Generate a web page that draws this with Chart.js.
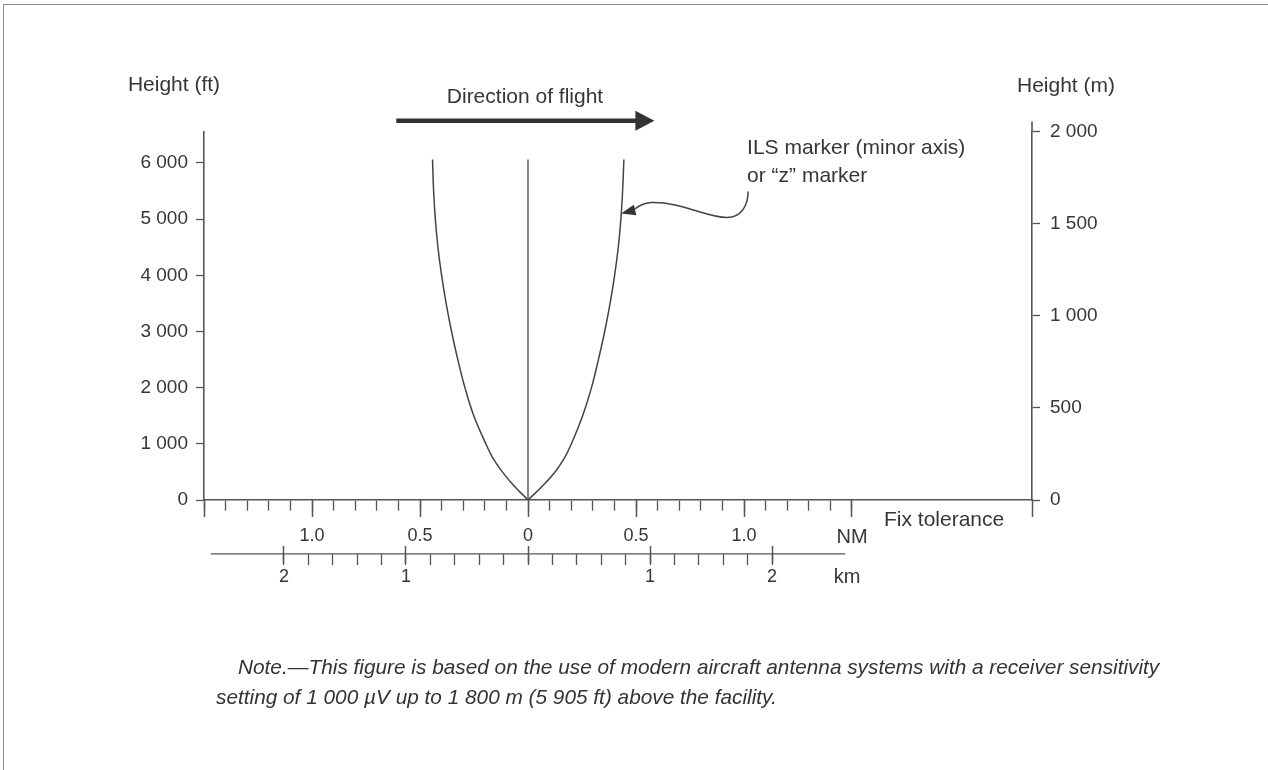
<!DOCTYPE html>
<html>
<head>
<meta charset="utf-8">
<title>ILS marker fix tolerance</title>
<script src="https://cdn.jsdelivr.net/npm/chart.js@4.4.0/dist/chart.umd.min.js"></script>
<style>
  body { margin: 0; background: #fff; }
  #wrap { position: relative; width: 1268px; height: 770px; }
  #frame { position: absolute; left: 3px; top: 4px; right: 0; bottom: 0; border-top: 1px solid #8c8c8c; border-left: 1px solid #8c8c8c; pointer-events: none; }
  #note { position: absolute; left: 216px; top: 652px; font: italic 20.8px 'Liberation Sans', Arial, sans-serif; line-height: 30px; color: #333; white-space: nowrap; }
  #note .first { padding-left: 22px; }
</style>
</head>
<body>
<div id="wrap">
  <canvas id="markerChart"></canvas>
  <div id="frame"></div>
  <div id="note"><span class="first">Note.—This figure is based on the use of modern aircraft antenna systems with a receiver sensitivity</span><br>setting of 1 000 µV up to 1 800 m (5 905 ft) above the facility.</div>
</div>
<script>
// Axis ticks and labels
const ftPerM = 3.28084;
const maxHeightM = 2000;
const heightTicksFt = [0, 1000, 2000, 3000, 4000, 5000, 6000];
const heightTicksM = [0, 500, 1000, 1500, 2000];
const nmMajorTicks = [-1.5, -1.0, -0.5, 0, 0.5, 1.0, 1.5];
const nmLabelValues = [-1.0, -0.5, 0, 0.5, 1.0, 1.5];
const nmLabelTexts = ['1.0', '0.5', '0', '0.5', '1.0', 'NM'];
const kmMajorTicks = [-2, -1, 0, 1, 2];
const kmLabelValues = [-2, -1, 1, 2, 2.615];
const kmLabelTexts = ['2', '1', '1', '2', 'km'];

// Marker coverage edges (distance in NM from facility, height in ft)
const leftEdgeNm = [-0.442, -0.437, -0.429, -0.417, -0.400, -0.379, -0.354, -0.325, -0.292, -0.251, -0.195, -0.163, -0.119, -0.064, 0];
const leftEdgeFt = [6060, 5500, 5000, 4500, 4000, 3500, 3000, 2500, 2000, 1500, 1000, 750, 500, 250, 0];
const rightEdgeNm = [0, 0.067, 0.125, 0.169, 0.201, 0.253, 0.294, 0.326, 0.355, 0.380, 0.401, 0.418, 0.430, 0.438, 0.444];
const rightEdgeFt = [0, 250, 500, 750, 1000, 1500, 2000, 2500, 3000, 3500, 4000, 4500, 5000, 5500, 6060];
const centreNm = [0, 0];
const centreFt = [0, 6060];

// Figure layout (in axis units)
const xMinNm = -1.5;
const xMaxNm = 7 / 3;
const kmPerNm = 1.77;       // km scale as drawn in the figure
const kmLineExtent = 2.6;
const kmAxisFt = -960;
const kmMajorAxisFt = -820;
const arrowFromNm = -0.61;
const arrowToNm = 0.585;
const arrowFt = 6750;
const ilsTipNm = 0.431;
const ilsTipFt = 5100;

const FONT = "'Liberation Sans', Arial, Helvetica, sans-serif";
const TEXT = '#363636';
const LINE = '#555555';

const nmMinorTicks = [];
for (let i = -15; i <= 15; i++) nmMinorTicks.push(i / 10);
const kmMinorTicks = [];
for (let i = -10; i <= 10; i++) kmMinorTicks.push(i / 5);

const pts = (xs, ys) => xs.map((v, i) => ({ x: v, y: ys[i] }));
const labelFor = (v, values, texts) => {
    const i = values.findIndex(k => Math.abs(k - v) < 1e-6);
    return i < 0 ? '' : texts[i];
};
const spaced = v => v >= 1000 ? Math.floor(v / 1000) + ' ' + String(v % 1000).padStart(3, '0') : String(v);

Chart.defaults.font.family = FONT;
Chart.defaults.color = TEXT;

const figurePlugin = {
    id: 'figureAnnotations',
    afterDraw(chart) {
        const { ctx, chartArea: a, scales: { x, y, xKm } } = chart;
        ctx.save();
        ctx.fillStyle = TEXT;
        ctx.strokeStyle = LINE;

        // axis titles
        ctx.font = `21px ${FONT}`;
        ctx.textAlign = 'center';
        ctx.textBaseline = 'middle';
        ctx.fillText('Height (ft)', a.left - 30, a.top - 46);
        ctx.fillText('Height (m)', a.right + 34, a.top - 45);

        // right axis runs a little above 2 000 m
        ctx.lineWidth = 1.6;
        ctx.beginPath();
        ctx.moveTo(a.right, a.top);
        ctx.lineTo(a.right, a.top - 10);
        ctx.stroke();

        // km baseline
        const kmY = y.getPixelForValue(kmAxisFt);
        ctx.lineWidth = 1.3;
        ctx.beginPath();
        ctx.moveTo(xKm.getPixelForValue(-kmLineExtent), kmY);
        ctx.lineTo(xKm.getPixelForValue(kmLineExtent), kmY);
        ctx.stroke();

        ctx.textAlign = 'left';
        ctx.fillText('Fix tolerance', x.getPixelForValue(1.5) + 32, a.bottom + 20);

        // direction of flight
        const ay = y.getPixelForValue(arrowFt);
        const ax0 = x.getPixelForValue(arrowFromNm);
        const ax1 = x.getPixelForValue(arrowToNm);
        ctx.strokeStyle = '#333';
        ctx.fillStyle = '#333';
        ctx.lineWidth = 4.5;
        ctx.beginPath();
        ctx.moveTo(ax0, ay);
        ctx.lineTo(ax1 - 14, ay);
        ctx.stroke();
        ctx.beginPath();
        ctx.moveTo(ax1, ay);
        ctx.lineTo(ax1 - 19, ay - 10);
        ctx.lineTo(ax1 - 19, ay + 10);
        ctx.closePath();
        ctx.fill();
        ctx.fillStyle = TEXT;
        ctx.textAlign = 'center';
        ctx.fillText('Direction of flight', x.getPixelForValue(0) - 3, ay - 24);

        // ILS marker leader
        const tx = x.getPixelForValue(ilsTipNm);
        const ty = y.getPixelForValue(ilsTipFt);
        ctx.strokeStyle = '#444';
        ctx.lineWidth = 1.5;
        ctx.beginPath();
        ctx.moveTo(tx + 127, ty - 22);
        ctx.bezierCurveTo(tx + 127, ty - 8, tx + 120, ty + 4, tx + 106, ty + 4);
        ctx.bezierCurveTo(tx + 85, ty + 4, tx + 60, ty - 12, tx + 30, ty - 11);
        ctx.quadraticCurveTo(tx + 20, ty - 10, tx + 13, ty - 4);
        ctx.stroke();
        ctx.fillStyle = '#333';
        ctx.beginPath();
        ctx.moveTo(tx, ty);
        ctx.lineTo(tx + 15.3, ty + 1.8);
        ctx.lineTo(tx + 12.7, ty - 8.8);
        ctx.closePath();
        ctx.fill();

        ctx.fillStyle = TEXT;
        ctx.textAlign = 'left';
        ctx.fillText('ILS marker (minor axis)', tx + 126, ty - 65.5);
        ctx.fillText('or \u201cz\u201d marker', tx + 126, ty - 37);
        ctx.restore();
    }
};

const edgeStyle = { showLine: true, borderColor: '#444', borderWidth: 1.5, pointRadius: 0, tension: 0.4, fill: false, xAxisID: 'x', yAxisID: 'y' };
const unitFont = c => ({ size: (c.tick && c.tick.value > 1.4) ? 20 : 18 });

const ctx = document.getElementById('markerChart').getContext('2d');

new Chart(ctx, {
    type: 'scatter',
    data: {
        datasets: [
            { ...edgeStyle, label: 'Left edge', data: pts(leftEdgeNm, leftEdgeFt) },
            { ...edgeStyle, label: 'Right edge', data: pts(rightEdgeNm, rightEdgeFt) },
            { ...edgeStyle, label: 'Centre', data: pts(centreNm, centreFt), borderWidth: 1.3, tension: 0 }
        ]
    },
    options: {
        responsive: true,
        maintainAspectRatio: false,
        animation: false,
        events: [],
        layout: { padding: { top: 131.4, bottom: 270, left: 0, right: 0 } },
        plugins: { legend: { display: false }, tooltip: { enabled: false } },
        scales: {
            x: {
                type: 'linear', axis: 'x', position: { y: 0 },
                min: xMinNm, max: xMaxNm,
                afterBuildTicks: s => { s.ticks = nmMinorTicks.map(v => ({ value: v })); },
                grid: { drawOnChartArea: false, tickLength: 10, tickColor: LINE, tickWidth: 1.3 },
                border: { color: LINE, width: 1.6 },
                ticks: {
                    autoSkip: false, maxRotation: 0, padding: 15, color: TEXT,
                    font: unitFont,
                    callback: v => labelFor(v, nmLabelValues, nmLabelTexts)
                }
            },
            xMajor: {
                type: 'linear', axis: 'x', position: { y: 0 },
                min: xMinNm, max: xMaxNm,
                afterBuildTicks: s => { s.ticks = nmMajorTicks.concat([xMaxNm]).map(v => ({ value: v })); },
                grid: { drawOnChartArea: false, tickLength: 17, tickColor: LINE, tickWidth: 1.5 },
                border: { display: false },
                ticks: { display: false }
            },
            xKm: {
                type: 'linear', axis: 'x', position: { y: kmAxisFt },
                min: xMinNm * kmPerNm, max: xMaxNm * kmPerNm,
                afterBuildTicks: s => { s.ticks = kmMinorTicks.concat([kmLabelValues[4]]).map(v => ({ value: v })); },
                grid: {
                    drawOnChartArea: false, tickLength: 11, tickWidth: 1.3,
                    tickColor: c => (c.tick && c.tick.value > 2.5) ? 'rgba(0,0,0,0)' : LINE
                },
                border: { display: false },
                ticks: {
                    autoSkip: false, maxRotation: 0, padding: 1, color: TEXT,
                    font: c => ({ size: (c.tick && c.tick.value > 2.5) ? 20 : 18 }),
                    callback: v => labelFor(v, kmLabelValues, kmLabelTexts)
                }
            },
            xKmMajor: {
                type: 'linear', axis: 'x', position: { y: kmMajorAxisFt },
                min: xMinNm * kmPerNm, max: xMaxNm * kmPerNm,
                afterBuildTicks: s => { s.ticks = kmMajorTicks.map(v => ({ value: v })); },
                grid: { drawOnChartArea: false, tickLength: 17, tickColor: LINE, tickWidth: 1.5 },
                border: { display: false },
                ticks: { display: false }
            },
            y: {
                type: 'linear', position: 'left',
                min: 0, max: maxHeightM * ftPerM,
                afterBuildTicks: s => { s.ticks = heightTicksFt.map(v => ({ value: v })); },
                afterFit: s => { s.width = 204; },
                grid: { drawOnChartArea: false, tickLength: 8, tickColor: LINE, tickWidth: 1.3 },
                border: { color: LINE, width: 1.6 },
                ticks: { padding: 8, color: TEXT, font: { size: 19 }, callback: v => spaced(v) }
            },
            y2: {
                type: 'linear', position: 'right',
                min: 0, max: maxHeightM,
                afterBuildTicks: s => { s.ticks = heightTicksM.map(v => ({ value: v })); },
                afterFit: s => { s.width = 236; },
                grid: { drawOnChartArea: false, tickLength: 8, tickColor: LINE, tickWidth: 1.3 },
                border: { color: LINE, width: 1.6 },
                ticks: { padding: 10, color: TEXT, font: { size: 19 }, callback: v => spaced(v) }
            }
        }
    },
    plugins: [figurePlugin]
});
</script>
</body>
</html>
